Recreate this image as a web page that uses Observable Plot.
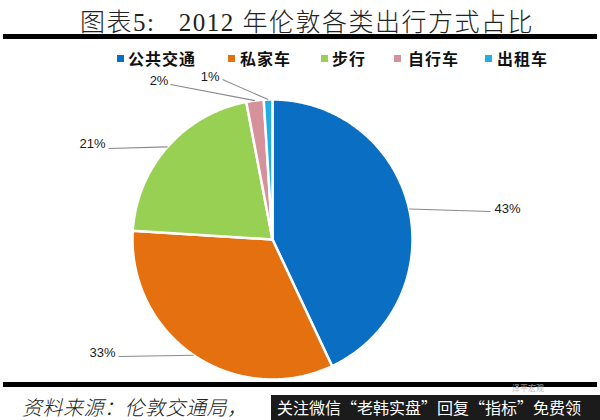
<!DOCTYPE html>
<html>
<head>
<meta charset="utf-8">
<script src="https://cdn.jsdelivr.net/npm/d3@7"></script>
<script src="https://cdn.jsdelivr.net/npm/@observablehq/plot@0.6"></script>
<style>
  html, body { margin: 0; padding: 0; background: #fff; }
  #page { position: relative; width: 600px; height: 420px; overflow: hidden; background: #fff; }
  #title { position: absolute; left: 80px; top: 2px; white-space: pre; letter-spacing: 1.5px;
    font-family: "Liberation Serif", "Noto Sans CJK SC", serif; font-weight: 300; font-size: 25px; color: #222; }
  .rule { position: absolute; left: 3px; width: 594px; background: #000; }
  #legend { position: absolute; top: 48px; left: 0; height: 20px; width: 600px;
    font-family: "Noto Sans CJK SC", sans-serif; font-weight: 700; font-size: 16px; color: #111; }
  .sw { position: absolute; top: 7px; width: 7px; height: 7px; }
  .lt { position: absolute; top: 0; line-height: 20px; letter-spacing: 1px; white-space: nowrap; }
  #chart { position: absolute; left: 0; top: 70px; }
  #caption { position: absolute; left: 22px; top: 392px; font-family: "Noto Sans CJK SC", sans-serif;
    font-style: italic; font-weight: 300; font-size: 20px; color: #222; white-space: nowrap; letter-spacing: 0.5px; }
  #wm { position: absolute; left: 271px; top: 395px; width: 329px; height: 25px; background: #1b1b1b;
    color: #fff; font-family: "Noto Sans CJK SC", sans-serif; font-size: 16px; line-height: 25px;
    padding-left: 6px; white-space: nowrap; overflow: hidden; box-sizing: border-box; }
  #wm2 { position: absolute; left: 512px; top: 384px; height: 8px; line-height: 8px; font-family: "Noto Sans CJK SC", sans-serif;
    font-size: 8px; color: #bbb; }
</style>
</head>
<body>
<div id="page">
  <div id="title">图表5:   2012 年伦敦各类出行方式占比</div>
  <div class="rule" style="top:34px;height:5px"></div>
  <div id="legend"></div>
  <div id="chart"></div>
  <div class="rule" style="top:382px;height:5px"></div>
  <div id="caption">资料来源：伦敦交通局，</div>
  <div id="wm2">泽平宏观</div>
  <div id="wm">关注微信“老韩实盘”回复“指标”免费领</div>
</div>
<script>
// ---- data ----
const categories = ["公共交通", "私家车", "步行", "自行车", "出租车"];
const shares = [43, 33, 21, 2, 1];
const shareLabels = ["43%", "33%", "21%", "2%", "1%"];

// ---- styling / layout ----
const colors = ["#0A6FC2", "#E5700F", "#97D052", "#D6929A", "#22AEE5"];
const R = 140, CX = 272, CY = 169, W = 600, H = 312;
// label leader end points, relative to pie centre in units of radius (x right, y up)
const labelEnds = [[1.557, 0.2], [-1.1, -0.836], [-1.171, 0.65], [-0.729, 1.107], [-0.357, 1.143]];
const labelDx = [4, -3, -3, -2, -3];
const labelDy = [-3, -4, -5, -4, -3];
const labelAnchor = ["start", "end", "end", "end", "end"];
const legendSwX = [117, 228, 321, 394, 485];
const legendTxX = [128, 240, 332, 408, 497];

// legend
const lg = document.getElementById("legend");
categories.forEach((c, i) => {
  const s = document.createElement("div");
  s.className = "sw"; s.style.left = legendSwX[i] + "px"; s.style.background = colors[i];
  const t = document.createElement("div");
  t.className = "lt"; t.style.left = legendTxX[i] + "px"; t.textContent = c;
  lg.appendChild(s); lg.appendChild(t);
});

// pie geometry
const arcs = d3.pie().sort(null).value(d => d)(shares);
const slicePts = [];
arcs.forEach((a, i) => {
  const cat = categories[i];
  slicePts.push({cat, x: 0, y: 0});
  const n = Math.max(4, Math.ceil((a.endAngle - a.startAngle) / 0.01));
  for (let k = 0; k <= n; k++) {
    const t = a.startAngle + (a.endAngle - a.startAngle) * k / n;
    slicePts.push({cat, x: Math.sin(t), y: Math.cos(t)});
  }
  slicePts.push({cat, x: 0, y: 0});
});

const leaders = arcs.map((a, i) => {
  const m = (a.startAngle + a.endAngle) / 2;
  return {x1: Math.sin(m), y1: Math.cos(m), x2: labelEnds[i][0], y2: labelEnds[i][1],
          label: shareLabels[i], anchor: labelAnchor[i], dx: labelDx[i], dy: labelDy[i]};
});

const chart = Plot.plot({
  width: W, height: H, margin: 0,
  x: {domain: [-CX / R, (W - CX) / R], axis: null},
  y: {domain: [-(H - CY) / R, CY / R], axis: null},
  color: {domain: categories, range: colors},
  style: {background: "transparent", overflow: "visible", fontFamily: "'Liberation Sans', Arial, sans-serif"},
  marks: [
    Plot.line(slicePts, {x: "x", y: "y", z: "cat", fill: "cat", stroke: "white", strokeWidth: 2.5, strokeLinejoin: "round", curve: "linear"}),
    Plot.link(leaders, {x1: "x1", y1: "y1", x2: "x2", y2: "y2", stroke: "#8a8a8a", strokeWidth: 1.1}),
    ...leaders.map(d => Plot.text([d], {x: "x2", y: "y2", text: "label", textAnchor: d.anchor, dx: d.dx, dy: d.dy, fontSize: 13, fill: "#1a1a1a"}))
  ]
});
document.getElementById("chart").appendChild(chart);
</script>
</body>
</html>
